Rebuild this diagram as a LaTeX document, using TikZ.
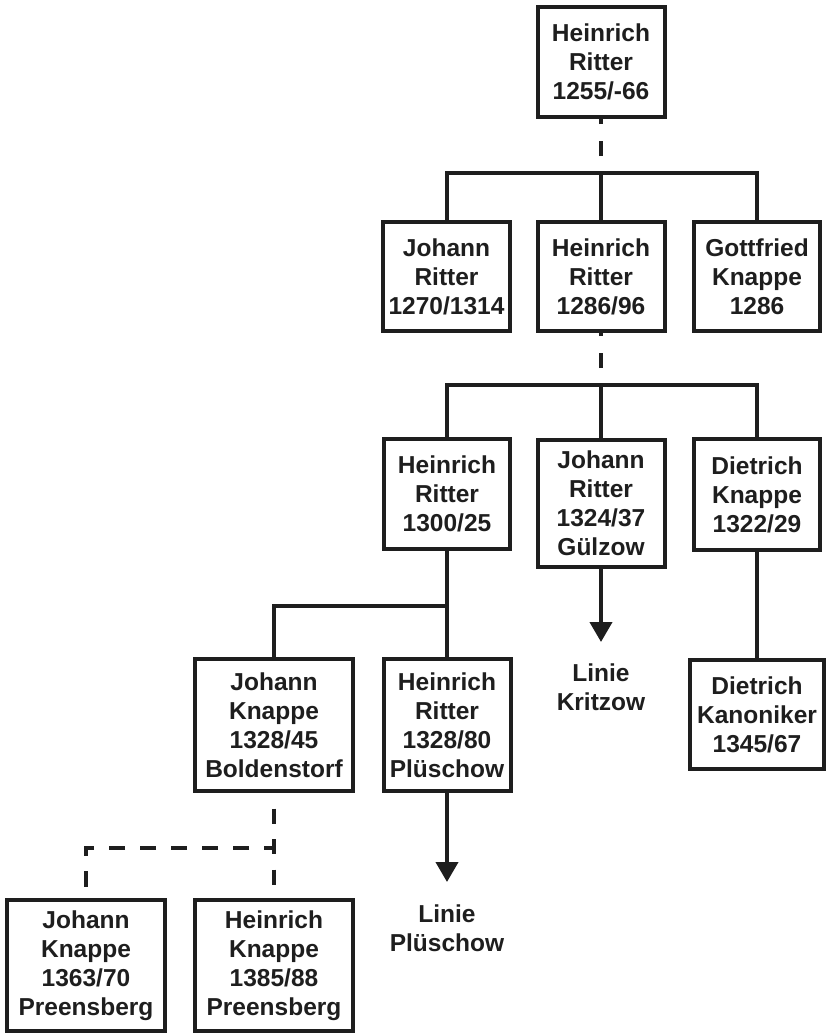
\documentclass[tikz,border=0pt]{standalone}
\usepackage{fontspec}
\setmainfont{Liberation Sans}
\usetikzlibrary{arrows.meta}
\definecolor{ink}{RGB}{30,30,30}
\tikzset{
  person/.style={draw=ink, line width=4pt, rectangle, inner sep=0pt, align=center,
    text=ink, font=\fontsize{24.5}{29}\selectfont\bfseries},
  linie/.style={inner sep=0pt, align=center, text=ink,
    font=\fontsize{24.5}{29.5}\selectfont\bfseries},
  conn/.style={draw=ink, line width=4pt},
  dashconn/.style={draw=ink, line width=4pt, dash pattern=on 15pt off 17pt, dash phase=15pt},
  dashconnb/.style={draw=ink, line width=4pt, dash pattern=on 15pt off 15.5pt, dash phase=15pt},
  dashconnc/.style={draw=ink, line width=4pt, dash pattern=on 16pt off 15pt, dash phase=6pt},
  arr/.style={draw=ink, line width=4pt, -{Triangle[width=22pt,length=20pt]}},
}
\begin{document}
\begin{tikzpicture}[x=1pt,y=-1pt]
\useasboundingbox (0,0) rectangle (829,1034);
% boxes
\node[person, minimum width=127pt, minimum height=110pt] (A) at (601,62) {Heinrich\\Ritter\\1255/-66};
\node[person, minimum width=127pt, minimum height=109pt] (B1) at (446.5,276.5) {Johann\\Ritter\\1270/1314};
\node[person, minimum width=127pt, minimum height=109pt] (B2) at (601,276.5) {Heinrich\\Ritter\\1286/96};
\node[person, minimum width=126pt, minimum height=109pt] (B3) at (757,276.5) {Gottfried\\Knappe\\1286};
\node[person, minimum width=126pt, minimum height=110pt] (C1) at (447,494) {Heinrich\\Ritter\\1300/25};
\node[person, minimum width=127pt, minimum height=127pt] (C2) at (601,503.5) {Johann\\Ritter\\1324/37\\Gülzow};
\node[person, minimum width=126pt, minimum height=111pt] (C3) at (757,494.5) {Dietrich\\Knappe\\1322/29};
\node[person, minimum width=158pt, minimum height=132pt] (D1) at (274,725) {Johann\\Knappe\\1328/45\\Boldenstorf};
\node[person, minimum width=127pt, minimum height=132pt] (D2) at (447,725) {Heinrich\\Ritter\\1328/80\\Plüschow};
\node[person, minimum width=134pt, minimum height=109pt] (D3) at (757,714.5) {Dietrich\\Kanoniker\\1345/67};
\node[person, minimum width=158pt, minimum height=131pt] (E1) at (86,965.5) {Johann\\Knappe\\1363/70\\Preensberg};
\node[person, minimum width=158pt, minimum height=131pt] (E2) at (274,965.5) {Heinrich\\Knappe\\1385/88\\Preensberg};
% lines
\node[linie] (LK) at (601,687) {Linie\\Kritzow};
\node[linie] (LP) at (447,928) {Linie\\Plüschow};
% junctions
\coordinate (h1) at (601,173);
\coordinate (h2) at (601,385);
\coordinate (h3) at (447,606);
\coordinate (h4) at (274,848);
\coordinate (tk) at (601,642);
\coordinate (tp) at (447,882);
% connectors
\draw[dashconn] (h1) -- (A.south);
\draw[conn] (B1.north) |- (h1) -| (B3.north);
\draw[conn] (h1) -- (B2.north);
\draw[dashconn] (h2) -- (B2.south);
\draw[conn] (C1.north) |- (h2) -| (C3.north);
\draw[conn] (h2) -- (C2.north);
\draw[conn] (C1.south) -- (D2.north);
\draw[conn] (h3) -| (D1.north);
\draw[conn] (C3.south) -- (D3.north);
\draw[arr] (C2.south) -- (tk);
\draw[arr] (D2.south) -- (tp);
\draw[dashconnb] (D1.south) -- (E2.north);
\draw[dashconnc] (h4) -| (E1.north);
\end{tikzpicture}
\end{document}
